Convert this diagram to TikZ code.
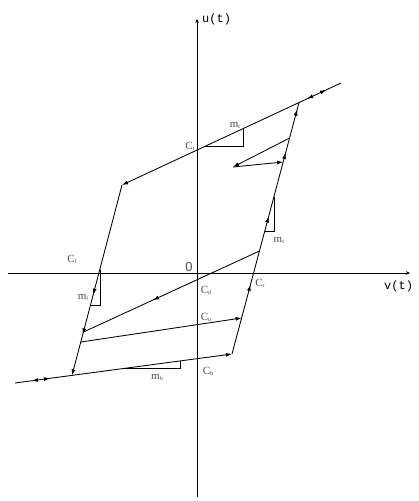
\documentclass[tikz,border=0pt]{standalone}
\usepackage{fontspec}
\setmainfont{Liberation Serif}
\newfontfamily\monof{Liberation Mono}
\newfontfamily\sansf{Liberation Sans}
\usetikzlibrary{arrows.meta,decorations.markings,calc}
\newcommand\mysub[1]{\raisebox{-0.2ex}{\fontsize{6}{6}\selectfont #1}}
\begin{document}
\begin{tikzpicture}[x=1pt,y=-1pt,
  ln/.style={line width=0.85pt},
  tip/.style={-{Latex[length=6pt,width=4pt]}},
  tri/.style={line width=0.6pt},
  lab/.style={font=\fontsize{11}{11}\selectfont, text=black!70, inner sep=0pt},
  axlab/.style={font=\monof\fontsize{12}{12}\selectfont, inner sep=0pt, anchor=west},
  fwd/.style={postaction={decorate,decoration={markings,mark=at position #1 with {\arrow{Latex[length=6pt,width=4pt]}}}}},
  bwd/.style={postaction={decorate,decoration={markings,mark=at position #1 with {\arrowreversed{Latex[length=6pt,width=4pt]}}}}},
]
\useasboundingbox (0,0) rectangle (419,501);
% key points
\coordinate (TR) at (341,83);
\coordinate (TL) at (122,185);
\coordinate (P1) at (299,102.6);
\coordinate (LB) at (72,375.4);
\coordinate (BL) at (15,383);
\coordinate (BR) at (232,354);
\coordinate (D1) at (259.5,251);
\coordinate (D2) at (83.5,332);
\coordinate (U1) at (80.9,342);
\coordinate (U2) at (241.6,318);
\coordinate (E1) at (289.7,138);
\coordinate (E2) at (233,167);
\coordinate (E3) at (283.3,162);
\coordinate (Vb) at (197,497);
\coordinate (Vt) at (197,19);
\coordinate (Hl) at (8,273);
\coordinate (Hr) at (410,273);
% axes
\draw[line width=0.8pt,-{Stealth[length=4pt,width=3.5pt]}] (Vb) -- (Vt);
\draw[line width=0.8pt,-{Stealth[length=4pt,width=3.5pt]}] (Hl) -- (Hr);
% hysteresis
\draw[ln, tip, fwd=0.155, bwd=0.068] (TR) -- (TL);
\draw[ln, fwd=0.275, fwd=0.547, fwd=0.80, fwd=0.972] (BR) -- (P1);
\draw[ln, tip, fwd=0.576, fwd=0.785] (TL) -- (LB);
\draw[ln, tip, bwd=0.078, fwd=0.161] (BL) -- (BR);
\draw[ln, fwd=0.605] (D1) -- (D2);
\draw[ln, tip] (U1) -- (U2);
\draw[ln, tip] (E1) -- (E2);
\draw[ln, tip] (E2) -- (E3);
% slope triangles
\draw[tri] (205,146.3) -- (243.3,146.3) -- (243.3,128.5);
\draw[tri] (274.3,196.5) -- (274.3,231.7) -- (264.6,231.7);
\draw[tri] (100,269.5) -- (100,305) -- (90.7,305);
\draw[tri] (125,368.3) -- (180,368.3) -- (180,361);
% labels
\node[lab] (Ct) at (190,146) {C\mysub{t}};
\node[lab] (mt) at (235,125) {m\mysub{t}};
\node[lab] (mr) at (279,240) {m\mysub{r}};
\node[lab] (Cl) at (72,259) {C\mysub{l}};
\node[lab] (ml) at (83,297) {m\mysub{l}};
\node[lab] (mb) at (157,377) {m\mysub{b}};
\node[lab] (Cb) at (208,371) {C\mysub{b}};
\node[lab] (Cu) at (206,317) {C\mysub{u}};
\node[lab] (Cd) at (206,290) {C\mysub{d}};
\node[lab] (Cr) at (260,283) {C\mysub{r}};
\node[lab, font=\sansf\fontsize{13}{13}\selectfont] (zero) at (189,267) {0};
\node[axlab] (ut) at (202,19) {u(t)};
\node[axlab] (vt) at (384,286) {v(t)};
\end{tikzpicture}
\end{document}
